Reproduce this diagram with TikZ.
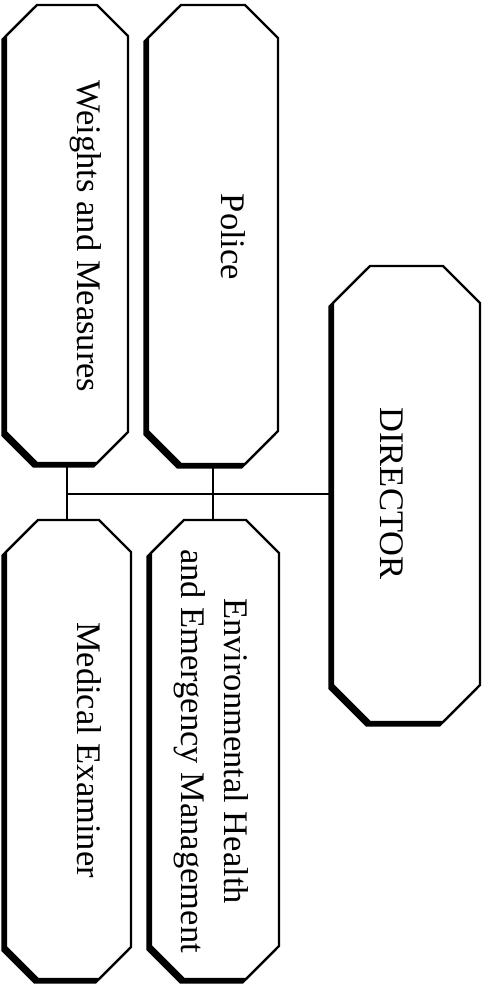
\documentclass[tikz,border=0pt]{standalone}
\usepackage{fontspec}
\setmainfont{Liberation Serif}
\newcommand{\octbox}[2]{%
  \filldraw[shad, transform canvas={shift={(-3.5pt,-3.5pt)}}] ([xshift=#2]#1.north west) -- ([xshift=-#2]#1.north east) -- ([yshift=-#2]#1.north east) -- ([yshift=#2]#1.south east) -- ([xshift=-#2]#1.south east) -- ([xshift=#2]#1.south west) -- ([yshift=#2]#1.south west) -- ([yshift=-#2]#1.north west) -- cycle;
  \draw[outl] ([xshift=#2]#1.north west) -- ([xshift=-#2]#1.north east) -- ([yshift=-#2]#1.north east) -- ([yshift=#2]#1.south east) -- ([xshift=-#2]#1.south east) -- ([xshift=#2]#1.south west) -- ([yshift=#2]#1.south west) -- ([yshift=-#2]#1.north west) -- cycle;
}
\begin{document}
\begin{tikzpicture}[x=1pt,y=-1pt,
  boxn/.style={rectangle, inner sep=0pt, outer sep=0pt, draw=none},
  outl/.style={draw=black, line width=2.2pt, fill=white, line join=miter},
  shad/.style={fill=black, draw=black, line width=2.2pt},
  lbl/.style={rotate=-90, anchor=base, font=\fontsize{34.5}{43}\selectfont, inner sep=0pt},
  conn/.style={draw=black, line width=1.8pt}]
\useasboundingbox (0,0) rectangle (489,986);
% box anchors
\node[boxn, minimum width=122pt, minimum height=458pt] (W) at (67,234) {};
\node[boxn, minimum width=130pt, minimum height=459pt] (P) at (213,234.5) {};
\node[boxn, minimum width=147pt, minimum height=456pt] (D) at (406.5,494) {};
\node[boxn, minimum width=125pt, minimum height=459pt] (M) at (68.5,749.5) {};
\node[boxn, minimum width=128pt, minimum height=459pt] (E) at (215,749.5) {};
% connectors
\draw[conn] (W.south) -- (W.south |- M.north);
\draw[conn] (P.south) -- (P.south |- E.north);
\draw[conn] (W.south |- D.west) -- (D.west);
% boxes
\octbox{W}{31pt}
\octbox{P}{33pt}
\octbox{D}{37pt}
\octbox{M}{32pt}
\octbox{E}{33pt}
% labels
\node[lbl] (tW) at (77,236.5) {Weights and Measures};
\node[lbl] (tP) at (221,237) {Police};
\node[lbl] (tD) at (380,493.5) {DIRECTOR};
\node[lbl] (tM) at (77,750) {Medical Examiner};
\node[lbl, anchor=center, align=center] (tE) at (211.5,751) {Environmental Health\\and Emergency Management};
\end{tikzpicture}
\end{document}
